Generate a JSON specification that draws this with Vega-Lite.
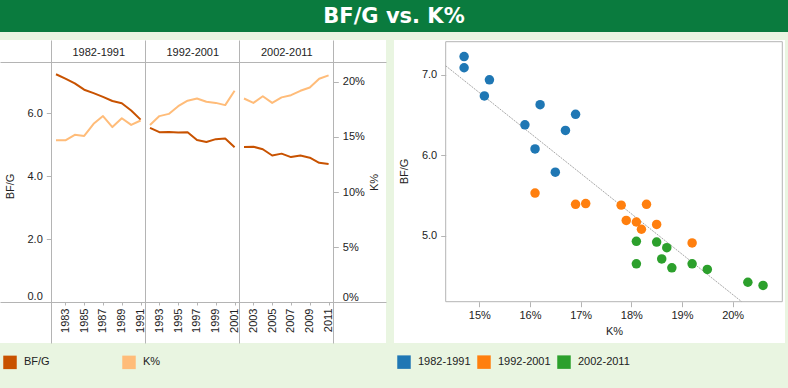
{
  "$schema": "https://vega.github.io/schema/vega-lite/v6.json",
  "padding": {"left": 0, "top": 0, "right": 0, "bottom": 20},
  "background": "#e9f5e1",
  "datasets": {
    "stats": [
      {"year": 1982, "period": "1982-1991", "bfg": 7.23, "k": 14.7},
      {"year": 1983, "period": "1982-1991", "bfg": 7.09, "k": 14.7},
      {"year": 1984, "period": "1982-1991", "bfg": 6.94, "k": 15.2},
      {"year": 1985, "period": "1982-1991", "bfg": 6.74, "k": 15.1},
      {"year": 1986, "period": "1982-1991", "bfg": 6.63, "k": 16.2},
      {"year": 1987, "period": "1982-1991", "bfg": 6.51, "k": 16.9},
      {"year": 1988, "period": "1982-1991", "bfg": 6.38, "k": 15.9},
      {"year": 1989, "period": "1982-1991", "bfg": 6.31, "k": 16.7},
      {"year": 1990, "period": "1982-1991", "bfg": 6.08, "k": 16.1},
      {"year": 1991, "period": "1982-1991", "bfg": 5.79, "k": 16.5},
      {"year": 1992, "period": "1992-2001", "bfg": 5.53, "k": 16.1},
      {"year": 1993, "period": "1992-2001", "bfg": 5.39, "k": 16.9},
      {"year": 1994, "period": "1992-2001", "bfg": 5.40, "k": 17.1},
      {"year": 1995, "period": "1992-2001", "bfg": 5.38, "k": 17.8},
      {"year": 1996, "period": "1992-2001", "bfg": 5.39, "k": 18.3},
      {"year": 1997, "period": "1992-2001", "bfg": 5.14, "k": 18.5},
      {"year": 1998, "period": "1992-2001", "bfg": 5.08, "k": 18.2},
      {"year": 1999, "period": "1992-2001", "bfg": 5.17, "k": 18.1},
      {"year": 2000, "period": "1992-2001", "bfg": 5.19, "k": 17.9},
      {"year": 2001, "period": "1992-2001", "bfg": 4.91, "k": 19.2},
      {"year": 2002, "period": "2002-2011", "bfg": 4.92, "k": 18.5},
      {"year": 2003, "period": "2002-2011", "bfg": 4.93, "k": 18.1},
      {"year": 2004, "period": "2002-2011", "bfg": 4.85, "k": 18.7},
      {"year": 2005, "period": "2002-2011", "bfg": 4.65, "k": 18.1},
      {"year": 2006, "period": "2002-2011", "bfg": 4.71, "k": 18.6},
      {"year": 2007, "period": "2002-2011", "bfg": 4.60, "k": 18.8},
      {"year": 2008, "period": "2002-2011", "bfg": 4.65, "k": 19.2},
      {"year": 2009, "period": "2002-2011", "bfg": 4.58, "k": 19.5},
      {"year": 2010, "period": "2002-2011", "bfg": 4.42, "k": 20.3},
      {"year": 2011, "period": "2002-2011", "bfg": 4.38, "k": 20.6}
    ]
  },
  "spacing": 8,
  "vconcat": [
    {
      "width": 788,
      "height": 32,
      "view": {"fill": "#0a7b3e", "stroke": null},
      "data": {"values": [{"title": "BF/G vs. K%"}]},
      "mark": {"type": "text", "font": "DejaVu Sans", "fontWeight": "bold", "fontSize": 21, "color": "#ffffff", "dy": 1},
      "encoding": {"text": {"field": "title", "type": "nominal"}}
    },
    {
      "spacing": 8,
      "resolve": {"scale": {"color": "independent"}, "legend": {"color": "independent"}},
      "hconcat": [
        {
          "width": 386,
          "height": 303,
          "view": {"fill": "#ffffff", "stroke": null},
          "data": {"name": "stats"},
          "layer": [
            {
              "mark": {"type": "rule", "opacity": 0},
              "encoding": {
                "x": {
                  "field": "year", "type": "quantitative",
                  "scale": {"domain": [1976.043, 2017.107], "nice": false, "zero": false},
                  "axis": {"orient": "top", "values": [1981.5, 1991.5, 2001.5, 2011.5], "grid": true, "gridColor": "#b4b4b4", "gridWidth": 1, "labels": false, "ticks": false, "domain": false, "title": null}
                }
              }
            },
            {
              "mark": {"type": "line", "strokeWidth": 2, "strokeJoin": "round"},
              "encoding": {
                "x": {
                  "field": "year", "type": "quantitative",
                  "axis": {"orient": "bottom", "offset": -41, "values": [1983, 1985, 1987, 1989, 1991, 1993, 1995, 1997, 1999, 2001, 2003, 2005, 2007, 2009, 2011], "format": "d", "labelAngle": -90, "labelFlush": false, "grid": false, "domain": true, "tickSize": 3, "labelPadding": 3, "title": null}
                },
                "y": {
                  "field": "bfg", "type": "quantitative",
                  "scale": {"domain": [-1.3016, 8.3175], "nice": false, "zero": false},
                  "axis": {"orient": "left", "offset": -51.3, "values": [0, 2, 4, 6], "format": ".1f", "domain": false, "tickSize": 5, "labelPadding": 4, "title": "BF/G", "titlePadding": 11.5, "titleY": 146,
                    "labelBaseline": {"condition": {"test": "datum.value == 0", "value": "bottom"}, "value": "middle"}}
                },
                "color": {
                  "datum": "BF/G",
                  "scale": {"domain": ["BF/G", "K%"], "range": ["#c85200", "#ffbc79"]},
                  "legend": {"orient": "bottom", "direction": "horizontal", "title": null, "symbolType": "square", "symbolSize": 42.25, "symbolStrokeWidth": 7, "labelOffset": 7, "columnPadding": 61, "gridAlign": "all", "offset": 9, "padding": 3}
                },
                "detail": {"field": "period"}
              }
            },
            {
              "mark": {"type": "line", "strokeWidth": 2, "strokeJoin": "round"},
              "encoding": {
                "x": {
                  "field": "year", "type": "quantitative",
                  "axis": {"orient": "top", "offset": -22, "values": [1986.5, 1996.5, 2006.5], "labelExpr": "datum.value < 1990 ? '1982-1991' : datum.value < 2000 ? '1992-2001' : '2002-2011'", "labelFlush": false, "tickSize": 0, "labelPadding": 5, "domain": true, "grid": false, "title": null}
                },
                "y": {
                  "field": "k", "type": "quantitative",
                  "scale": {"domain": [-3.727, 23.818], "nice": false, "zero": false},
                  "axis": {"orient": "right", "offset": -52.7, "values": [0, 5, 10, 15, 20], "labelExpr": "datum.value + '%'", "domain": false, "tickSize": 5, "labelPadding": 4, "title": "K%", "titleAngle": 270, "titleBaseline": "top", "titlePadding": 4, "titleY": 142,
                    "labelBaseline": {"condition": {"test": "datum.value == 0", "value": "bottom"}, "value": "middle"}}
                },
                "color": {"datum": "K%"},
                "detail": {"field": "period"}
              }
            }
          ],
          "resolve": {"scale": {"y": "independent"}, "axis": {"x": "independent", "y": "independent"}}
        },
        {
          "width": 391,
          "height": 303,
          "view": {"fill": "#ffffff", "stroke": null},
          "layer": [
            {
              "data": {"values": [{}]},
              "mark": {"type": "rect", "fillOpacity": 0, "stroke": "#b4b4b4", "strokeWidth": 1},
              "encoding": {
                "x": {"datum": 14.3368, "type": "quantitative", "scale": {"domain": [13.3165, 21.0331], "nice": false, "zero": false},
                  "axis": {"orient": "bottom", "offset": -41.3, "values": [15, 16, 17, 18, 19, 20], "labelExpr": "datum.value + '%'", "labelFlush": false, "domain": false, "grid": false, "tickSize": 5, "labelPadding": 3, "title": "K%", "titlePadding": 5, "titleX": 220}},
                "x2": {"datum": 20.9798},
                "y": {"datum": 4.1778, "type": "quantitative", "scale": {"domain": [3.6637, 7.4357], "nice": false, "zero": false},
                  "axis": {"orient": "left", "offset": -51.7, "values": [5, 6, 7], "format": ".1f", "domain": false, "grid": false, "tickSize": 5, "labelPadding": 4, "title": "BF/G", "titlePadding": 12, "titleY": 131}},
                "y2": {"datum": 7.4145}
              }
            },
            {
              "data": {"name": "stats"},
              "transform": [{"regression": "bfg", "on": "k", "extent": [14.3368, 20.1785]}],
              "mark": {"type": "line", "color": "#a8a8a8", "strokeWidth": 1, "strokeDash": [2, 1]},
              "encoding": {
                "x": {"field": "k", "type": "quantitative"},
                "y": {"field": "bfg", "type": "quantitative"}
              }
            },
            {
              "data": {"name": "stats"},
              "mark": {"type": "circle", "size": 90, "opacity": 1},
              "encoding": {
                "x": {"field": "k", "type": "quantitative"},
                "y": {"field": "bfg", "type": "quantitative"},
                "color": {
                  "field": "period", "type": "nominal",
                  "scale": {"domain": ["1982-1991", "1992-2001", "2002-2011"], "range": ["#1f77b4", "#ff7f0e", "#2ca02c"]},
                  "legend": {"orient": "bottom", "direction": "horizontal", "title": null, "symbolType": "square", "symbolSize": 182, "symbolStrokeWidth": 0, "labelOffset": 7, "columnPadding": 6, "gridAlign": "all", "offset": 9, "padding": 3}
                }
              }
            }
          ]
        }
      ]
    }
  ],
  "config": {
    "view": {"stroke": null},
    "font": "Liberation Sans",
    "axis": {"labelFont": "Liberation Sans", "labelFontSize": 11, "labelColor": "#222222", "titleFont": "Liberation Sans", "titleFontSize": 11, "titleFontWeight": "normal", "titleColor": "#222222", "tickColor": "#b4b4b4", "domainColor": "#b4b4b4", "grid": false},
    "legend": {"labelFont": "Liberation Sans", "labelFontSize": 11, "labelColor": "#222222"}
  }
}
